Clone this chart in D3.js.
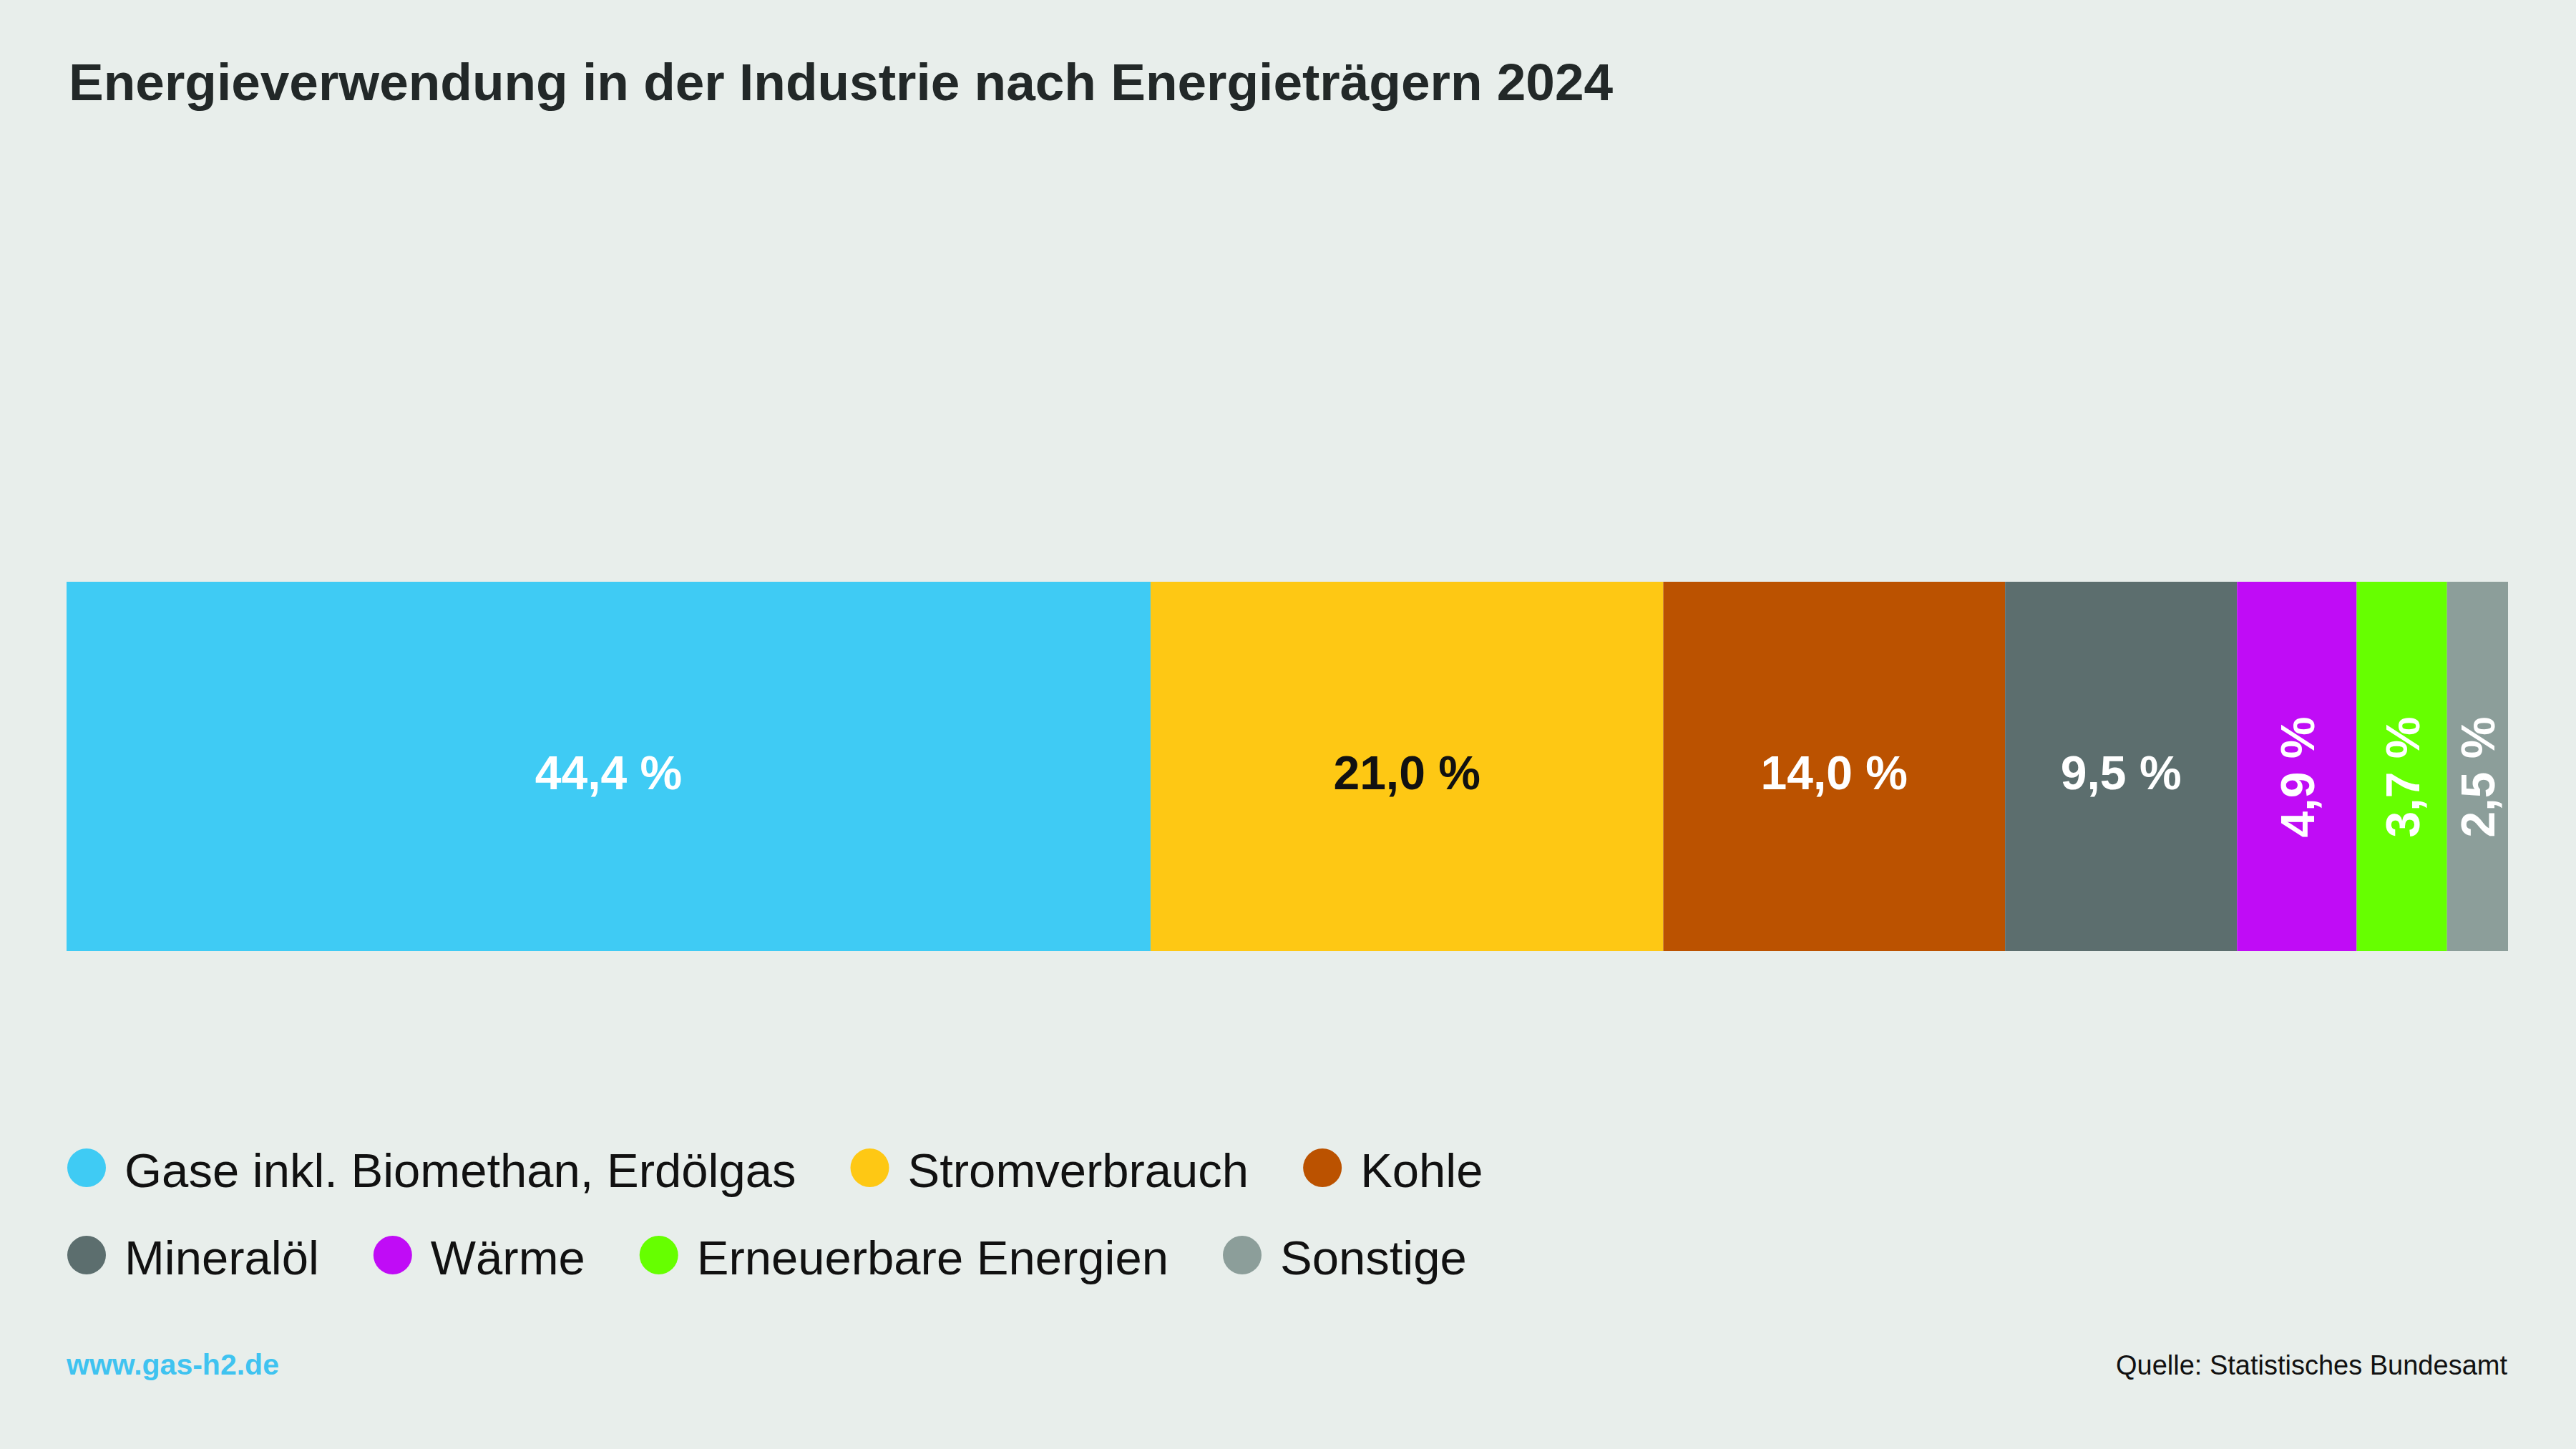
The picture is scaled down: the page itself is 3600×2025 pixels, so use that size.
<!DOCTYPE html>
<html>
<head>
<meta charset="utf-8">
<script src="https://cdn.jsdelivr.net/npm/d3@7"></script>
<style>
  html, body { margin: 0; padding: 0; background: #e8eeeb; }
  svg { display: block; }
  text { font-family: "Liberation Sans", Arial, Helvetica, sans-serif; }
</style>
</head>
<body>
<div id="chart"></div>
<script>
// Energieverwendung in der Industrie nach Energieträgern 2024 (Anteile in %)
const categories = ["Gase inkl. Biomethan, Erdölgas", "Stromverbrauch", "Kohle", "Mineralöl", "Wärme", "Erneuerbare Energien", "Sonstige"];
const shares = [44.4, 21.0, 14.0, 9.5, 4.9, 3.7, 2.5];
const legendRows = [[0, 1, 2], [3, 4, 5, 6]];

const colors = ["#3fcbf4", "#fec814", "#bb5200", "#5c6e6e", "#c00cf6", "#66ff00", "#8c9e9a"];
const labelColors = ["#ffffff", "#111111", "#ffffff", "#ffffff", "#ffffff", "#ffffff", "#ffffff"];

const width = 3600, height = 2025;
const margin = {left: 93, right: 95};
const barTop = 813, barBottom = 1329;

const de = d3.formatLocale({decimal: ",", thousands: ".", grouping: [3], currency: ["", " €"]});
const fmt = de.format(".1f");

const svg = d3.select("#chart")
    .append("svg")
    .attr("width", width)
    .attr("height", height);

svg.append("rect")
    .attr("width", width)
    .attr("height", height)
    .attr("fill", "#e8eeeb");

// title
svg.append("text")
    .attr("x", 96)
    .attr("y", 140)
    .attr("font-size", 73)
    .attr("font-weight", "bold")
    .attr("fill", "#222828")
    .text("Energieverwendung in der Industrie nach Energieträgern 2024");

// stacked bar
const x = d3.scaleLinear()
    .domain([0, d3.sum(shares)])
    .range([margin.left, width - margin.right]);

const ends = Array.from(d3.cumsum(shares));
const segs = shares.map((v, i) => ({
    i: i,
    value: v,
    x0: i == 0 ? 0 : ends[i - 1],
    x1: ends[i]
}));

const g = svg.append("g");

g.selectAll(".seg")
    .data(segs)
    .enter()
    .append("rect")
    .attr("class", "seg")
    .attr("x", d => x(d.x0))
    .attr("y", barTop)
    .attr("width", d => x(d.x1) - x(d.x0))
    .attr("height", barBottom - barTop)
    .attr("fill", d => colors[d.i]);

const midY = (barTop + barBottom) / 2;

g.selectAll(".lbl")
    .data(segs)
    .enter()
    .append("text")
    .attr("class", "lbl")
    .attr("font-size", 66)
    .attr("font-weight", "bold")
    .attr("text-anchor", "middle")
    .attr("fill", d => labelColors[d.i])
    .attr("transform", d => {
        let cx = (x(d.x0) + x(d.x1)) / 2;
        let w = x(d.x1) - x(d.x0);
        //narrow segments get a vertical label
        if (w < 220) return `translate(${cx + 24},${midY + 15}) rotate(-90)`;
        return `translate(${cx},${midY + 32})`;
    })
    .text(d => fmt(d.value) + " %");

// legend
const legend = svg.append("g");
const rowY = [1632, 1754];

legendRows.forEach((row, r) => {
    let cx = 121;
    row.forEach(i => {
        let item = legend.append("g");
        item.append("circle")
            .attr("cx", cx)
            .attr("cy", rowY[r])
            .attr("r", 27)
            .attr("fill", colors[i]);
        let t = item.append("text")
            .attr("x", cx + 53)
            .attr("y", rowY[r] + 27)
            .attr("font-size", 67)
            .attr("fill", "#111111")
            .text(categories[i]);
        cx += 53 + t.node().getComputedTextLength() + 103;
    });
});

// footer
svg.append("text")
    .attr("x", 93)
    .attr("y", 1921)
    .attr("font-size", 41)
    .attr("font-weight", "bold")
    .attr("fill", "#3fc3f0")
    .text("www.gas-h2.de");

svg.append("text")
    .attr("x", 3504)
    .attr("y", 1921)
    .attr("font-size", 38)
    .attr("text-anchor", "end")
    .attr("fill", "#111111")
    .text("Quelle: Statistisches Bundesamt");
</script>
</body>
</html>
